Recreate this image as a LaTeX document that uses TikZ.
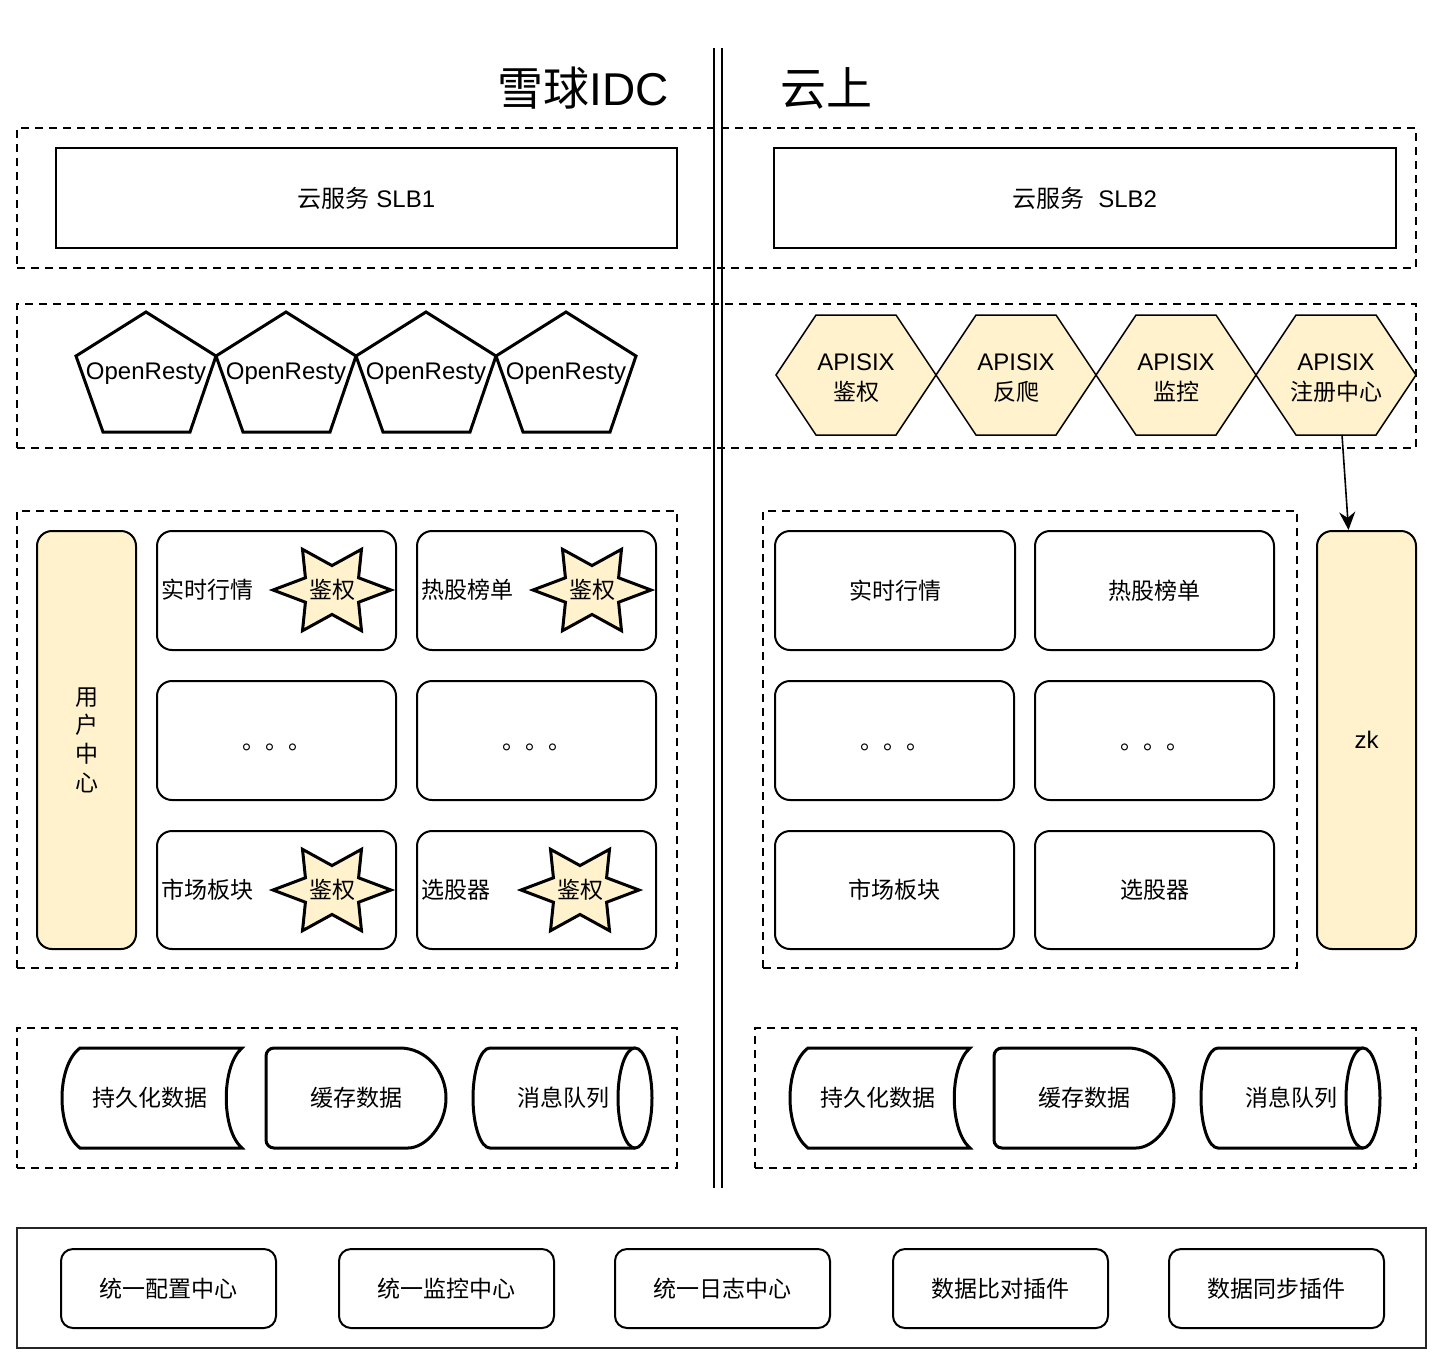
\documentclass[tikz,border=0pt]{standalone}
\usepackage{fontspec}
\setmainfont{Liberation Sans}
\newfontfamily\cjk{Noto Sans CJK SC}
\usetikzlibrary{arrows.meta}
\definecolor{fillY}{HTML}{FFF2CC}
\newcommand{\bx}[7]{\node[#6, minimum width={(#4-#2)*0.5pt}, minimum height={(#5-#3)*0.5pt}] (#1) at ({(#2+#4)/2},{(#3+#5)/2}) {#7};}
\newcommand{\storedshape}[3]{%
  \draw[sline] ({#1+20},1048) -- ({#1+182},1048) .. controls ({#1+161},1066) and ({#1+161},1130) .. ({#1+182},1148) -- ({#1+20},1148) .. controls ({#1-4},1130) and ({#1-4},1066) .. ({#1+20},1048) -- cycle;
  \node[cj] (#2) at ({#1+90},1098) {#3};}
\newcommand{\delayshape}[3]{%
  \draw[sline, rounded corners=4pt] ({#1+134},1048) -- (#1,1048) -- (#1,1148) -- ({#1+134},1148) [sharp corners] .. controls ({#1+159.4},1148) and ({#1+180},1125.6) .. ({#1+180},1098) .. controls ({#1+180},1070.4) and ({#1+159.4},1048) .. ({#1+134},1048) -- cycle;
  \node[cj] (#2) at ({#1+90},1098) {#3};}
\newcommand{\cylshape}[3]{%
  \draw[sline] ({#1+162},1048) -- ({#1+17},1048) .. controls ({#1+7.6},1048) and (#1,1070.4) .. (#1,1098) .. controls (#1,1125.6) and ({#1+7.6},1148) .. ({#1+17},1148) -- ({#1+162},1148);
  \draw[sline] ({#1+162},1098) ellipse [x radius=8.5pt, y radius=25pt];
  \node[cj] (#2) at ({#1+90},1098) {#3};}
\newcommand{\sixstar}[4]{%
  \begin{scope}[shift={(#1,#2)}, xscale=59, yscale=47]
    \draw[starline] (0:1) -- (30:.52) -- (60:1) -- (90:.52) -- (120:1) -- (150:.52) -- (180:1) -- (210:.52) -- (240:1) -- (270:.52) -- (300:1) -- (330:.52) -- cycle;
  \end{scope}
  \node[cj] (#3) at (#1,#2) {#4};}
\newcommand{\hexa}[3]{%
  \draw[hexline] ({#1-80},375) -- ({#1-40},315) -- ({#1+40},315) -- ({#1+80},375) -- ({#1+40},435) -- ({#1-40},435) -- cycle;
  \node[lat, align=center, minimum height=60pt] (#2) at (#1,378) {APISIX\\[1pt]{\cjk\fontsize{11.5}{14}\selectfont #3}};}
\newcommand{\penta}[2]{%
  \draw[pentline] (#1,312) -- ({#1+70},356) -- ({#1+44},432) -- ({#1-43},432) -- ({#1-70},356) -- cycle;
  \node[lat] (#2) at (#1,374) {OpenResty};}
\begin{document}
\begin{tikzpicture}[x=0.5pt,y=-0.5pt,
  cj/.style={font=\cjk\fontsize{11.5}{14}\selectfont, inner sep=0pt},
  lat/.style={font=\fontsize{12}{14}\selectfont, inner sep=0pt},
  dbox/.style={draw, dash pattern=on 4pt off 3pt, line width=0.9pt, inner sep=0pt},
  plain/.style={draw, line width=1pt, fill=white, inner sep=0pt, font=\fontsize{12}{14}\selectfont},
  cell/.style={draw, line width=1pt, rounded corners=7.5pt, fill=white, inner sep=0pt, font=\cjk\fontsize{11.5}{14}\selectfont},
  ycell/.style={cell, fill=fillY},
  pbox/.style={draw, line width=1pt, rounded corners=6pt, fill=white, inner sep=0pt, font=\cjk\fontsize{11.5}{14}\selectfont},
  sline/.style={draw, line width=1.5pt, fill=white},
  starline/.style={draw, line width=1.5pt, fill=fillY, line join=miter},
  hexline/.style={draw, line width=0.75pt, fill=fillY},
  pentline/.style={draw, line width=1.5pt, fill=white, line join=miter},
  conn/.style={line width=0.8pt, -{Stealth[length=9pt,width=8pt]}}
]
\useasboundingbox[fill=white] (0,0) rectangle (1444,1366);

% titles
\node[font=\fontsize{23}{26}\selectfont, inner sep=0pt] (t1) at (583,88) {{\cjk 雪球}IDC};
\node[font=\cjk\fontsize{23}{26}\selectfont, inner sep=0pt] (t2) at (826,88) {云上};

% dashed groups
\bx{g1}{17}{128}{1416}{268}{dbox}{}
\bx{g2}{17}{304}{1416}{448}{dbox}{}
\bx{g3}{17}{511}{677}{968}{dbox}{}
\bx{g4}{763}{511}{1297}{968}{dbox}{}
\bx{g5}{17}{1028}{677}{1168}{dbox}{}
\bx{g6}{755}{1028}{1416}{1168}{dbox}{}

% divider
\coordinate (d1a) at (714,48); \coordinate (d1b) at (714,1188);
\coordinate (d2a) at (722,48); \coordinate (d2b) at (722,1188);
\draw[line width=0.8pt] (d1a) -- (d1b);
\draw[line width=0.8pt] (d2a) -- (d2b);

% SLB
\bx{slb1}{56}{148}{677}{248}{plain}{{\cjk 云服务} SLB1}
\bx{slb2}{774}{148}{1396}{248}{plain}{{\cjk 云服务}\ \ SLB2}

% OpenResty
\penta{146}{o1}
\penta{286}{o2}
\penta{426}{o3}
\penta{566}{o4}

% APISIX
\hexa{856}{h1}{鉴权}
\hexa{1016}{h2}{反爬}
\hexa{1176}{h3}{监控}
\hexa{1336}{h4}{注册中心}

% left services
\bx{u}{37}{531}{136}{949}{ycell, align=center, font=\cjk\fontsize{11.5}{14.3}\selectfont}{用\\户\\中\\心}
\bx{a1}{157}{531}{396}{650}{cell}{}
\bx{a2}{417}{531}{656}{650}{cell}{}
\bx{a3}{157}{681}{396}{800}{cell}{}
\bx{a4}{417}{681}{656}{800}{cell}{}
\bx{a5}{157}{831}{396}{949}{cell}{}
\bx{a6}{417}{831}{656}{949}{cell}{}
\node[cj, anchor=west] (a1t) at (161,590) {实时行情};
\node[cj, anchor=west] (a2t) at (421,590) {热股榜单};
\node[cj, anchor=west] (a5t) at (161,890) {市场板块};
\node[cj, anchor=west] (a6t) at (421,890) {选股器};
\node[cj] (a3t) at (277,747) {。。。};
\node[cj] (a4t) at (537,747) {。。。};
\sixstar{332}{590}{s1}{鉴权}
\sixstar{592}{590}{s2}{鉴权}
\sixstar{332}{890}{s3}{鉴权}
\sixstar{580}{890}{s4}{鉴权}

% right services
\bx{b1}{775}{531}{1015}{650}{cell}{实时行情}
\bx{b2}{1035}{531}{1274}{650}{cell}{热股榜单}
\bx{b3}{775}{681}{1014}{800}{cell}{}
\bx{b4}{1035}{681}{1274}{800}{cell}{}
\bx{b5}{775}{831}{1014}{949}{cell}{市场板块}
\bx{b6}{1035}{831}{1274}{949}{cell}{选股器}
\node[cj] (b3t) at (895,747) {。。。};
\node[cj] (b4t) at (1155,747) {。。。};
\bx{zk}{1317}{531}{1416}{949}{ycell, font=\fontsize{12}{14}\selectfont}{zk}

% arrow
\coordinate (h4b) at (1342,435);
\draw[conn] (h4b) -- ([xshift=-9pt]zk.north);

% storage
\storedshape{60}{st1}{持久化数据}
\delayshape{266}{st2}{缓存数据}
\cylshape{473}{st3}{消息队列}
\storedshape{788}{st4}{持久化数据}
\delayshape{994}{st5}{缓存数据}
\cylshape{1201}{st6}{消息队列}

% bottom
\bx{gb}{17}{1228}{1426}{1348}{draw, line width=1.2pt, draw=black!85}{}
\bx{p1}{61}{1249}{276}{1328}{pbox}{统一配置中心}
\bx{p2}{339}{1249}{554}{1328}{pbox}{统一监控中心}
\bx{p3}{615}{1249}{830}{1328}{pbox}{统一日志中心}
\bx{p4}{893}{1249}{1108}{1328}{pbox}{数据比对插件}
\bx{p5}{1169}{1249}{1384}{1328}{pbox}{数据同步插件}
\end{tikzpicture}
\end{document}
